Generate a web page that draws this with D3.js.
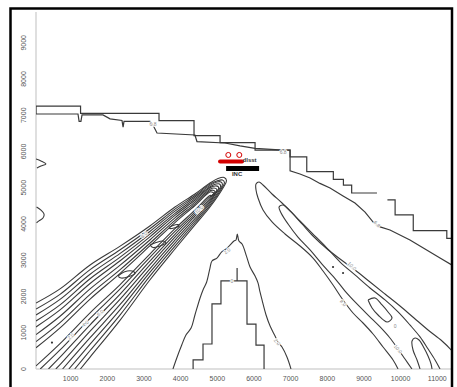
<!DOCTYPE html>
<html>
<head>
<meta charset="utf-8">
<title></title>
<style>
  body { margin: 0; background: #fff; }
  svg { display: block; }
</style>
</head>
<body>
<script src="https://cdn.jsdelivr.net/npm/d3@7"></script>
<script>
var width = 457, height = 387;

// tick labels
var xTicks = [1000, 2000, 3000, 4000, 5000, 6000, 7000, 8000, 9000, 10000, 11000];
var yTicks = [0, 1000, 2000, 3000, 4000, 5000, 6000, 7000, 8000, 9000];

// contour lines, each point is [x, y] in data units
var stepUpper = [[55,7255],[1270,7255],[1270,7055],[3410,7055],[3410,6850],[4365,6850],[4365,6440],[5075,6440],[5075,6245],[6030,6245],[6030,6040],[6985,6040],[6985,5850],[7440,5850],[7440,5445],[8165,5445],[8165,5230],[8440,5230],[8440,5075],[8665,5075],[8665,4855],[9355,4855]];
var stepLower = [[55,7255],[55,7035],[1200,7035],[1230,6830],[1280,6830],[1310,7010],[1880,7010],[2075,6900],[2400,6855],[2430,6675],[2455,6830],[3165,6830],[3245,6730],[3355,6510],[4390,6455],[4445,6275],[5210,6235],[5620,6155],[6030,6085],[6795,6040],[6985,6040],[6985,5465],[7255,5380],[7530,5270],[7800,5120],[8075,4995],[8430,4775],[8755,4580],[9030,4330],[9250,4055],[9440,3920],[9710,3835],[10255,3560],[10665,3310],[11075,3060],[11540,2785]];
var stepRight = [[9640,4665],[9850,4665],[9850,4250],[10345,4250],[10345,3815],[11260,3815],[11260,3605],[11540,3605]];
var edgeA = [[55,5795],[190,5740],[325,5655],[190,5600],[80,5545]];
var edgeB = [[70,4470],[190,4385],[275,4275],[245,4165],[135,4085],[70,4030]];

var peakOuter = [[3790,0],[3895,305],[4030,660],[4145,940],[4285,1130],[4390,1490],[4530,1960],[4610,2180],[4710,2400],[4800,2785],[4855,2980],[4990,3060],[5120,3230],[5240,3310],[5345,3420],[5455,3530],[5510,3560],[5545,3725],[5590,3530],[5675,3450],[5800,3100],[5890,2820],[6030,2565],[6110,2375],[6165,2125],[6220,1905],[6330,1490],[6440,1185],[6575,910],[6655,745],[6765,605],[6900,330],[7010,0]];
var peakInner = [[4340,0],[4340,250],[4610,250],[4610,690],[4855,690],[4855,1795],[5100,1795],[5100,2430],[5540,2430],[5540,2785],[5540,2430],[5810,2430],[5810,1240],[6055,1240],[6055,660],[6275,660],[6275,0]];

var lobe0 = [[55,1820],[710,2210],[1530,2870],[2350,3390],[3160,3945],[3845,4470],[4390,4830],[4800,5130],[5020,5255],[5185,5285],[5250,5200],[5155,4995],[4800,4470],[4390,3975],[3845,3310],[3160,2455],[2350,1350],[1530,330],[1265,0]];
var lobe1 = [[55,1655],[710,2060],[1530,2740],[2350,3290],[3160,3870],[3845,4410],[4390,4785],[4800,5100],[5020,5200],[5140,5215],[5195,5145],[5100,4950],[4800,4515],[4390,4035],[3845,3390],[3160,2560],[2350,1495],[1530,510],[1110,0]];
var lobe2 = [[55,1490],[710,1920],[1530,2615],[2350,3190],[3160,3795],[3845,4355],[4390,4745],[4800,5065],[4990,5160],[5100,5160],[5140,5090],[5045,4910],[4800,4565],[4390,4090],[3845,3475],[3160,2665],[2350,1640],[1530,685],[950,0]];
var lobe3 = [[55,1325],[710,1770],[1530,2490],[2350,3085],[3160,3720],[3845,4295],[4390,4700],[4800,5030],[4965,5105],[5060,5105],[5090,5035],[4990,4885],[4800,4610],[4390,4150],[3845,3555],[3160,2765],[2350,1780],[1530,865],[780,0]];
var lobe4 = [[55,1160],[710,1630],[1530,2360],[2350,2985],[3160,3645],[3845,4240],[4390,4655],[4800,5000],[4940,5050],[5020,5035],[5035,4980],[4950,4855],[4800,4655],[4390,4215],[3845,3635],[3160,2870],[2350,1925],[1530,1045],[710,120],[595,0]];
var lobe5 = [[55,950],[710,1455],[1530,2210],[2350,2865],[3160,3560],[3845,4170],[4390,4605],[4800,4960],[4910,4995],[4980,4965],[4980,4910],[4895,4830],[4800,4700],[4390,4275],[3845,3715],[3160,2975],[2350,2065],[1530,1220],[710,325],[395,0]];
var lobe6 = [[55,755],[710,1280],[1530,2060],[2350,2740],[3160,3470],[3845,4100],[4390,4555],[4800,4920],[4885,4930],[4940,4885],[4885,4800],[4800,4750],[4390,4330],[3845,3795],[3160,3080],[2350,2210],[1530,1395],[710,525],[170,0]];
var lobe7 = [[55,585],[710,1135],[1530,1930],[2350,2640],[3160,3395],[3845,4040],[4390,4510],[4800,4885],[4870,4875],[4910,4840],[4855,4790],[4800,4785],[4390,4385],[3845,3870],[3160,3170],[2350,2330],[1530,1550],[710,700],[55,85]];
var lobeLoopA = [[2290,2565],[2455,2675],[2675,2705],[2755,2635],[2590,2550],[2375,2510],[2290,2565]];
var lobeLoopB = [[3165,3420],[3330,3490],[3520,3530],[3600,3475],[3435,3395],[3245,3350],[3165,3420]];
var lobeLoopC = [[3685,3905],[3790,3960],[3930,3985],[3955,3945],[3820,3890],[3710,3875],[3685,3905]];

var right0 = [[9930,0],[9794,248],[9521,607],[9248,966],[8975,1269],[8702,1545],[8430,1904],[8157,2318],[7884,2704],[7611,3062],[7256,3394],[6847,3725],[6493,4056],[6247,4387],[6111,4718],[6056,4939],[6056,5104],[6138,5159],[6247,5077],[6493,4828],[6765,4580],[7038,4304],[7311,4001],[7611,3669],[7966,3338],[8348,3035],[8757,2731],[9166,2400],[9575,2069],[9984,1738],[10366,1407],[10748,1076],[11130,773],[11403,497],[11539,303]];
var right1 = [[10310,0],[10120,275],[9930,550],[9710,855],[9440,1160],[9140,1460],[8810,1795],[8485,2150],[8200,2510],[7855,2895],[7530,3285],[7200,3640],[6930,4000],[6740,4305],[6685,4470],[6795,4525],[6985,4360],[7255,4085],[7585,3750],[7965,3365],[8350,2950],[8755,2595],[9165,2235],[9575,1905],[9930,1575],[10255,1215],[10530,885],[10750,550],[10940,250],[11075,0]];
var rightLoopA = [[9112,1904],[9303,1959],[9494,1766],[9657,1573],[9766,1407],[9630,1297],[9385,1490],[9221,1683],[9112,1904]];
var rightLoopB = [[10530,0],[10448,248],[10339,524],[10312,773],[10393,855],[10503,800],[10639,579],[10748,359],[10830,138],[10857,0]];
var specks = [[8157,2814],[8430,2649],[490,730]];

// contour level labels [x, y, text]
var levelLabels = [[3245,6760,"6.8"],[6795,5985,"6.8"],[9355,4000,"6.8"],[5265,3255,"2.0"],[6630,745,"2.0"],[5400,2415,"0"],
  [8675,2840,"10.0"],[8430,1820,"8.0"],[9850,1185,"0"],[9930,550,"10.0"],
  [1000,900,"2.0"],[1400,1250,"4.0"],[1800,1550,"6.0"],[3000,3700,"8.0"],[4500,4400,"10.0"]];
var labelAngles = [0, 0, 45, -40, 50, 0, 45, 50, 0, 50, -40, -40, -40, -40, -40];

// points marked above the peak
var markCircles = [[5300,5905],[5600,5905]];
var markRed = [[5075,5725],[5675,5725]];
var markBar = [[5240,5530],[6140,5530]];
var markText = [[5690,5700,"dlsst"],[5400,5320,"INC"]];

var svg = d3.select('body').append('svg')
  .attr('width', width)
  .attr('height', height);

svg.append('rect').attr('width', width).attr('height', height).attr('fill', '#fff');

var x = d3.scaleLinear().domain([0, 11500]).range([34, 455.6]);
var y = d3.scaleLinear().domain([0, 9300]).range([369, 31.9]);

svg.append('clipPath').attr('id', 'plot')
  .append('rect').attr('x', 36).attr('y', 10).attr('width', 415).attr('height', 359);

// axis lines
svg.append('line').attr('x1', 36).attr('x2', 36).attr('y1', 12).attr('y2', 369)
  .attr('stroke', '#d4d4d4').attr('stroke-width', 1.5);
svg.append('line').attr('x1', 36).attr('x2', 452).attr('y1', 369).attr('y2', 369)
  .attr('stroke', '#d4d4d4').attr('stroke-width', 1.5);

svg.selectAll('.xlab').data(xTicks).enter().append('text')
  .attr('class', 'xlab')
  .attr('x', function(d) { return x(d); })
  .attr('y', 381)
  .attr('text-anchor', 'middle')
  .attr('font-family', 'Liberation Sans, Arial, sans-serif')
  .attr('font-size', '7px')
  .attr('fill', '#555')
  .text(function(d) { return d; });

svg.selectAll('.ylab').data(yTicks).enter().append('text')
  .attr('class', 'ylab')
  .attr('transform', function(d) { return 'translate(26,' + y(d) + ') rotate(-90)'; })
  .attr('text-anchor', 'middle')
  .attr('font-family', 'Liberation Sans, Arial, sans-serif')
  .attr('font-size', '7px')
  .attr('fill', '#555')
  .text(function(d) { return d; });

var g = svg.append('g').attr('clip-path', 'url(#plot)');

var straight = d3.line().x(function(d) { return x(d[0]); }).y(function(d) { return y(d[1]); });
var smooth = d3.line().curve(d3.curveCatmullRom.alpha(0.5))
  .x(function(d) { return x(d[0]); }).y(function(d) { return y(d[1]); });

var stepLines = [stepUpper, stepLower, stepRight, peakInner];
var smoothLines = [edgeA, edgeB, peakOuter, lobe0, lobe1, lobe2, lobe3, lobe4, lobe5, lobe6, lobe7,
  lobeLoopA, lobeLoopB, lobeLoopC, right0, right1, rightLoopA, rightLoopB];

g.selectAll('.step').data(stepLines).enter().append('path')
  .attr('class', 'step')
  .attr('d', straight)
  .attr('fill', 'none')
  .attr('stroke', '#3a3a3a')
  .attr('stroke-width', 1.2);

g.selectAll('.smooth').data(smoothLines).enter().append('path')
  .attr('class', 'smooth')
  .attr('d', smooth)
  .attr('fill', 'none')
  .attr('stroke', '#3a3a3a')
  .attr('stroke-width', 1.1);

g.selectAll('.speck').data(specks).enter().append('circle')
  .attr('cx', function(d) { return x(d[0]); })
  .attr('cy', function(d) { return y(d[1]); })
  .attr('r', 1.1)
  .attr('fill', '#333');

g.selectAll('.lvl').data(levelLabels).enter().append('text')
  .attr('class', 'lvl')
  .attr('transform', function(d, i) {
    return 'translate(' + x(d[0]) + ',' + y(d[1]) + ') rotate(' + labelAngles[i] + ')';
  })
  .attr('dy', '0.35em')
  .attr('text-anchor', 'middle')
  .attr('font-family', 'Liberation Sans, Arial, sans-serif')
  .attr('font-size', '5px')
  .attr('fill', '#888')
  .attr('stroke', '#fff')
  .attr('stroke-width', 1.5)
  .attr('paint-order', 'stroke')
  .text(function(d) { return d[2]; });

// marked points
g.append('path').datum(markBar).attr('d', straight)
  .attr('stroke', '#000').attr('stroke-width', 5);
g.append('path').datum(markRed).attr('d', straight)
  .attr('stroke', '#d40000').attr('stroke-width', 4).attr('stroke-linecap', 'round');
g.selectAll('.mc').data(markCircles).enter().append('circle')
  .attr('cx', function(d) { return x(d[0]); })
  .attr('cy', function(d) { return y(d[1]); })
  .attr('r', 2.5)
  .attr('fill', 'none')
  .attr('stroke', '#d40000')
  .attr('stroke-width', 1);
g.selectAll('.mt').data(markText).enter().append('text')
  .attr('x', function(d) { return x(d[0]); })
  .attr('y', function(d) { return y(d[1]); })
  .attr('font-family', 'Liberation Sans, Arial, sans-serif')
  .attr('font-size', '6px')
  .attr('font-weight', 'bold')
  .attr('fill', '#333')
  .text(function(d) { return d[2]; });

// outer frame
svg.append('rect').attr('x', 10.5).attr('y', 8.5).attr('width', 441.5).attr('height', 400)
  .attr('fill', 'none').attr('stroke', '#000').attr('stroke-width', 2.5);
</script>
</body>
</html>
